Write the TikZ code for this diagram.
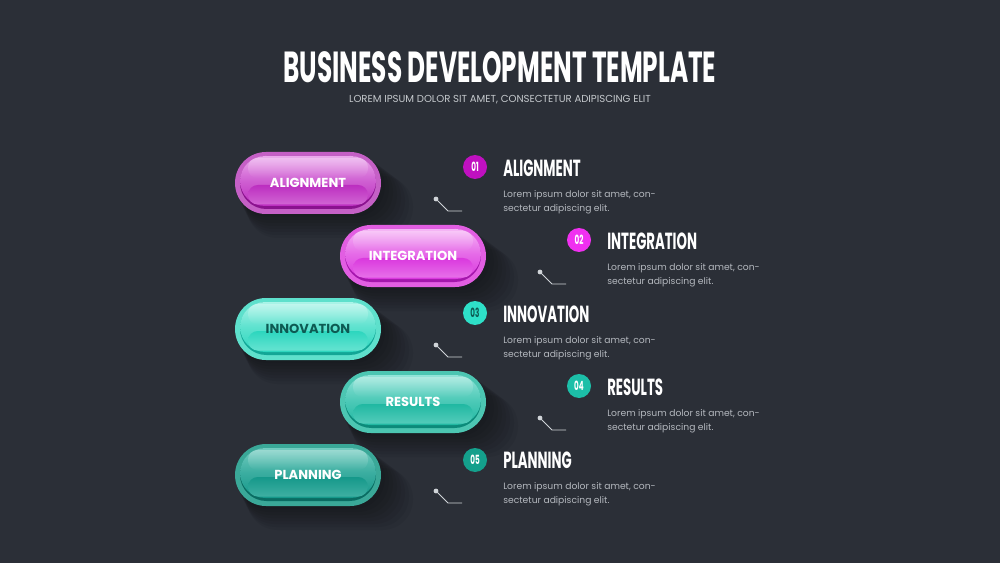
\documentclass[tikz,border=0pt]{standalone}
\usepackage{fontspec}
\usetikzlibrary{fadings}
\setmainfont{Poppins}
\newfontfamily\headfont[FakeStretch=0.57]{Poppins}
\definecolor{bg}{HTML}{2B2F37}
\definecolor{bodygray}{HTML}{B4B8BE}
\definecolor{subgray}{HTML}{C4C8CC}
\definecolor{linegray}{HTML}{D0D4D8}
% pill colours
\definecolor{Arim}{HTML}{C560C6}\definecolor{Alight}{HTML}{EBA8EC}\definecolor{Abase}{HTML}{BC2EC0}\definecolor{Adark}{HTML}{8A128E}\definecolor{Acirc}{HTML}{C010C0}
\definecolor{Brim}{HTML}{E25EE2}\definecolor{Blight}{HTML}{F6B4F6}\definecolor{Bbase}{HTML}{DA38DE}\definecolor{Bdark}{HTML}{A416AC}\definecolor{Bcirc}{HTML}{F030F0}
\definecolor{Crim}{HTML}{5EE0CC}\definecolor{Clight}{HTML}{AAF4E8}\definecolor{Cbase}{HTML}{2CD6BE}\definecolor{Cdark}{HTML}{12A696}\definecolor{Ccirc}{HTML}{2EE0C8}
\definecolor{Drim}{HTML}{4CC6B2}\definecolor{Dlight}{HTML}{92E4D8}\definecolor{Dbase}{HTML}{20B8A2}\definecolor{Ddark}{HTML}{0C8A7A}\definecolor{Dcirc}{HTML}{1CBFA8}
\definecolor{Erim}{HTML}{3AA898}\definecolor{Elight}{HTML}{72CCC0}\definecolor{Ebase}{HTML}{15988A}\definecolor{Edark}{HTML}{0A6C62}\definecolor{Ecirc}{HTML}{14A08C}
\definecolor{darkteal}{HTML}{0D5A52}
\tikzset{
  titletext/.style={font=\headfont\bfseries\fontsize{32.6}{35}\selectfont, text=white, inner sep=0pt},
  subtext/.style={font=\fontsize{7.6}{9}\selectfont, text=subgray, inner sep=0pt},
  pilltext/.style={font=\bfseries\fontsize{9.8}{11}\selectfont, inner sep=0pt},
  headtext/.style={font=\headfont\bfseries\fontsize{17.5}{20}\selectfont, text=white, inner sep=0pt, anchor=west},
  bodytext/.style={font=\fontsize{6.9}{10.5}\selectfont, text=bodygray, inner sep=0pt, anchor=north west, align=left},
  numcirc/.style={circle, minimum size=18pt, inner sep=0pt, text=white, font=\headfont\bfseries\fontsize{9.5}{10}\selectfont},
  conn/.style={draw=linegray, line width=0.7pt},
  dot/.style={circle, fill=linegray, minimum size=3.6pt, inner sep=0pt},
}
\newcommand\mypill[6]{%
  \begin{scope}[shift={(#2,#3)}]
    \foreach \k in {1,...,8}
      \fill[black,opacity=0.05,rounded corners=23pt] (-73+\k*1.5,-31+\k*3) rectangle (73+\k*4,31+\k*3);
    \fill[#4rim,rounded corners=23.25pt] (-73,-31) rectangle (73,31);
    \fill[#4dark,rounded corners=19.8pt] (-68,-27) rectangle (68,26);
    \shade[rounded corners=19pt, top color=#4light, bottom color=#4base, middle color=#4light!40!#4base] (-68,-27) rectangle (68,23);
    \shade[rounded corners=7.4pt, top color=#4base, bottom color=#4light!45!#4base] (-60,2) rectangle (60,21.5);
    \fill[white,opacity=0.3,path fading=south,rounded corners=7pt] (-60,-25) rectangle (60,-5);
    \node[pilltext,text=#6] (#1) at (0,0) {#5};
  \end{scope}}
\begin{document}
\begin{tikzpicture}[x=0.75pt,y=-0.75pt]
\useasboundingbox (0,0) rectangle (1000,563);
\fill[bg] (0,0) rectangle (1000,563);
\node[titletext] (title) at (500,67) {BUSINESS DEVELOPMENT TEMPLATE};
\node[subtext] (subtitle) at (500,100) {LOREM IPSUM DOLOR SIT AMET, CONSECTETUR ADIPISCING ELIT};
% pills
\mypill{p1}{308}{183}{A}{ALIGNMENT}{white}
\mypill{p2}{413}{256}{B}{INTEGRATION}{white}
\mypill{p3}{308}{329}{C}{INNOVATION}{darkteal}
\mypill{p4}{413}{402}{D}{RESULTS}{white}
\mypill{p5}{308}{475}{E}{PLANNING}{white}
% items
\node[numcirc,fill=Acirc] (n1) at (475,167) {01};
\node[headtext] (h1) at (503,168) {ALIGNMENT};
\node[bodytext] (b1) at (503,190) {Lorem ipsum dolor sit amet, con-\\sectetur adipiscing elit.};
\node[dot] (d1) at (436,199) {};
\coordinate (k1) at (448,211); \coordinate (e1) at (462,211);
\draw[conn] (d1.center) -- (k1) -- (e1);

\node[numcirc,fill=Bcirc] (n2) at (579,240) {02};
\node[headtext] (h2) at (607,241) {INTEGRATION};
\node[bodytext] (b2) at (607,263) {Lorem ipsum dolor sit amet, con-\\sectetur adipiscing elit.};
\node[dot] (d2) at (540,272) {};
\coordinate (k2) at (552,284); \coordinate (e2) at (566,284);
\draw[conn] (d2.center) -- (k2) -- (e2);

\node[numcirc,fill=Ccirc,text=darkteal] (n3) at (475,313) {03};
\node[headtext] (h3) at (503,314) {INNOVATION};
\node[bodytext] (b3) at (503,336) {Lorem ipsum dolor sit amet, con-\\sectetur adipiscing elit.};
\node[dot] (d3) at (436,345) {};
\coordinate (k3) at (448,357); \coordinate (e3) at (462,357);
\draw[conn] (d3.center) -- (k3) -- (e3);

\node[numcirc,fill=Dcirc] (n4) at (579,386) {04};
\node[headtext] (h4) at (607,387) {RESULTS};
\node[bodytext] (b4) at (607,409) {Lorem ipsum dolor sit amet, con-\\sectetur adipiscing elit.};
\node[dot] (d4) at (540,418) {};
\coordinate (k4) at (552,430); \coordinate (e4) at (566,430);
\draw[conn] (d4.center) -- (k4) -- (e4);

\node[numcirc,fill=Ecirc] (n5) at (475,460) {05};
\node[headtext] (h5) at (503,460) {PLANNING};
\node[bodytext] (b5) at (503,482) {Lorem ipsum dolor sit amet, con-\\sectetur adipiscing elit.};
\node[dot] (d5) at (436,491) {};
\coordinate (k5) at (448,503); \coordinate (e5) at (462,503);
\draw[conn] (d5.center) -- (k5) -- (e5);
\end{tikzpicture}
\end{document}
